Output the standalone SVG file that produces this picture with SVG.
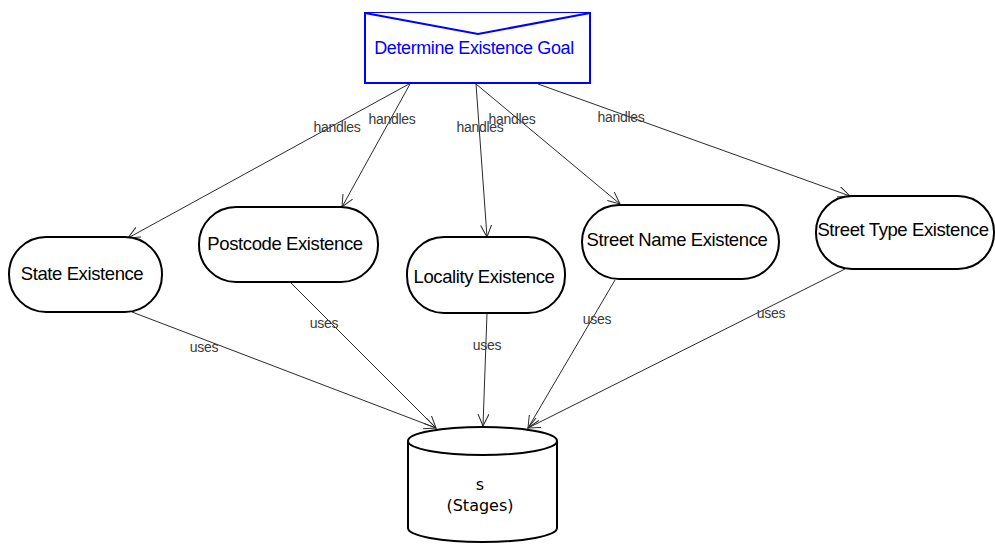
<svg xmlns="http://www.w3.org/2000/svg" width="995" height="544" viewBox="0 0 995 544">
  <style>
    .node { fill: #ffffff; stroke: #000000; stroke-width: 2; }
    .goal { fill: #ffffff; stroke: #0000ff; stroke-width: 2; }
    .label { font-family: "Liberation Sans", Arial, sans-serif; font-size: 18.5px; letter-spacing: -0.4px; fill: #000000; text-anchor: middle; }
    .goal-label { font-family: "Liberation Sans", Arial, sans-serif; font-size: 18px; letter-spacing: -0.4px; fill: #0000ff; text-anchor: middle; }
    .store-label { font-family: "DejaVu Sans", sans-serif; font-size: 16px; fill: #000000; text-anchor: middle; }
    .edge { fill: none; stroke: #2a2a2a; stroke-width: 1; }
    .edge-label { font-family: "Liberation Sans", Arial, sans-serif; font-size: 14px; letter-spacing: -0.3px; fill: #3a3a3a; text-anchor: middle; }
  </style>
  <defs>
    <marker id="open-arrow" markerUnits="userSpaceOnUse" markerWidth="14" markerHeight="12" refX="12" refY="6" orient="auto">
      <path d="M0,0.5 L12,6 L0,11.5" fill="none" stroke="#2a2a2a" stroke-width="1"/>
    </marker>
  </defs>

  <rect width="995" height="544" fill="#ffffff"/>

  <!-- connectors -->
  <g id="connectors">
    <line class="edge" x1="409" y1="84" x2="128" y2="238" marker-end="url(#open-arrow)"/>
    <line class="edge" x1="410" y1="84" x2="342" y2="207" marker-end="url(#open-arrow)"/>
    <line class="edge" x1="476" y1="84" x2="487" y2="237" marker-end="url(#open-arrow)"/>
    <line class="edge" x1="476" y1="84" x2="620" y2="204" marker-end="url(#open-arrow)"/>
    <line class="edge" x1="538" y1="84" x2="850" y2="196" marker-end="url(#open-arrow)"/>

    <line class="edge" x1="132" y1="312" x2="436" y2="428" marker-end="url(#open-arrow)"/>
    <line class="edge" x1="290" y1="282" x2="436" y2="428" marker-end="url(#open-arrow)"/>
    <line class="edge" x1="487" y1="313" x2="483" y2="426" marker-end="url(#open-arrow)"/>
    <line class="edge" x1="615" y1="280" x2="528" y2="428" marker-end="url(#open-arrow)"/>
    <line class="edge" x1="845" y1="269" x2="528" y2="428" marker-end="url(#open-arrow)"/>

    <text class="edge-label" x="337" y="132">handles</text>
    <text class="edge-label" x="392" y="124">handles</text>
    <text class="edge-label" x="480" y="132">handles</text>
    <text class="edge-label" x="512" y="124">handles</text>
    <text class="edge-label" x="621" y="122">handles</text>

    <text class="edge-label" x="204" y="352">uses</text>
    <text class="edge-label" x="324" y="328">uses</text>
    <text class="edge-label" x="487" y="350">uses</text>
    <text class="edge-label" x="597" y="324">uses</text>
    <text class="edge-label" x="771" y="318">uses</text>
  </g>

  <!-- goal -->
  <g id="determine-existence-goal">
    <rect class="goal" x="365" y="13" width="225" height="70"/>
    <polyline class="goal" points="365,13 478,34 590,13" fill="none"/>
    <text class="goal-label" x="474" y="54">Determine Existence Goal</text>
  </g>

  <!-- handlers -->
  <g id="state-existence">
    <rect class="node" x="9" y="237" width="153" height="75" rx="37" ry="37"/>
    <text class="label" x="82" y="280">State Existence</text>
  </g>
  <g id="postcode-existence">
    <rect class="node" x="199" y="207" width="179" height="75" rx="37" ry="37"/>
    <text class="label" x="285" y="250">Postcode Existence</text>
  </g>
  <g id="locality-existence">
    <rect class="node" x="407" y="237" width="158" height="76" rx="37" ry="37"/>
    <text class="label" x="484" y="283">Locality Existence</text>
  </g>
  <g id="street-name-existence">
    <rect class="node" x="582" y="205" width="197" height="74" rx="37" ry="37"/>
    <text class="label" x="677" y="246">Street Name Existence</text>
  </g>
  <g id="street-type-existence">
    <rect class="node" x="816" y="196" width="178" height="73" rx="36" ry="36"/>
    <text class="label" x="903" y="236">Street Type Existence</text>
  </g>

  <!-- data store -->
  <g id="stages-store">
    <path class="node" d="M408,441 L408,528 A74.5,14 0 0 0 557,528 L557,441"/>
    <ellipse class="node" cx="482.5" cy="441" rx="74.5" ry="14"/>
    <text class="store-label" x="480" y="490">s</text>
    <text class="store-label" x="480" y="511">(Stages)</text>
  </g>
</svg>
